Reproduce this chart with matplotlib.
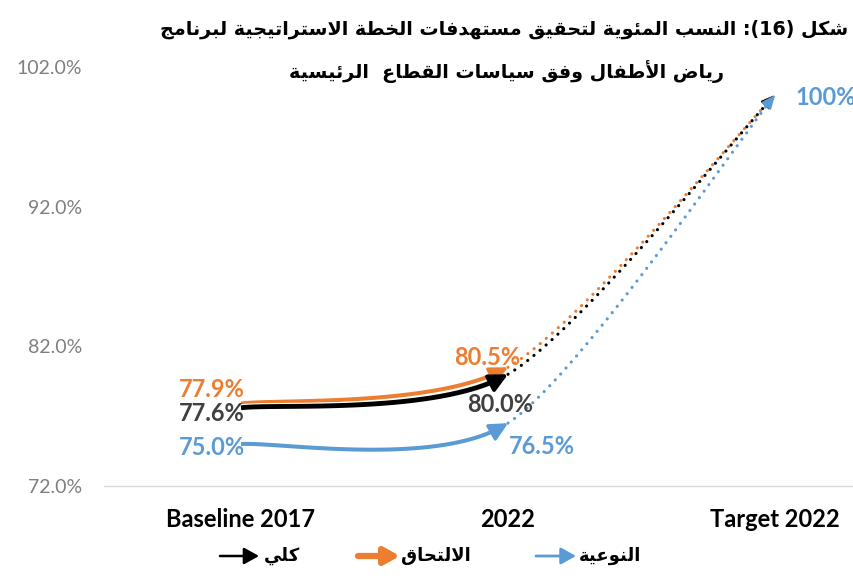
import numpy as np
import matplotlib
matplotlib.use("Agg")
import matplotlib.pyplot as plt
import matplotlib.patheffects as pe

# ----------------------------- data -----------------------------
categories = ["Baseline 2017", "2022", "Target 2022"]
series_names = ["النوعية", "الالتحاق", "كلي"]
quality = [75.0, 76.5, 100.0]
enrolment = [77.9, 80.5, 100.0]
overall = [77.6, 80.0, 100.0]
yticks = [72.0, 82.0, 92.0, 102.0]

title_fig = "شكل"
title_rest = "النسب المئوية لتحقيق مستهدفات الخطة الاستراتيجية لبرنامج"
title_line2 = "رياض الأطفال وفق سياسات القطاع  الرئيسية"

BLUE, ORANGE, BLACK, GREY = "#5B9BD5", "#ED7D31", "#000000", "#404040"


# ----------------------------- arabic shaping -----------------------------
# (isolated, final, initial, medial) presentation forms; right-joining letters
# have no initial/medial form.
FORMS = {
    "ا": (0xFE8D, 0xFE8E, None, None), "أ": (0xFE83, 0xFE84, None, None),
    "ب": (0xFE8F, 0xFE90, 0xFE91, 0xFE92), "ة": (0xFE93, 0xFE94, None, None),
    "ت": (0xFE95, 0xFE96, 0xFE97, 0xFE98), "ج": (0xFE9D, 0xFE9E, 0xFE9F, 0xFEA0),
    "ح": (0xFEA1, 0xFEA2, 0xFEA3, 0xFEA4), "خ": (0xFEA5, 0xFEA6, 0xFEA7, 0xFEA8),
    "د": (0xFEA9, 0xFEAA, None, None), "ر": (0xFEAD, 0xFEAE, None, None),
    "س": (0xFEB1, 0xFEB2, 0xFEB3, 0xFEB4), "ش": (0xFEB5, 0xFEB6, 0xFEB7, 0xFEB8),
    "ض": (0xFEBD, 0xFEBE, 0xFEBF, 0xFEC0), "ط": (0xFEC1, 0xFEC2, 0xFEC3, 0xFEC4),
    "ع": (0xFEC9, 0xFECA, 0xFECB, 0xFECC), "ف": (0xFED1, 0xFED2, 0xFED3, 0xFED4),
    "ق": (0xFED5, 0xFED6, 0xFED7, 0xFED8), "ك": (0xFED9, 0xFEDA, 0xFEDB, 0xFEDC),
    "ل": (0xFEDD, 0xFEDE, 0xFEDF, 0xFEE0), "م": (0xFEE1, 0xFEE2, 0xFEE3, 0xFEE4),
    "ن": (0xFEE5, 0xFEE6, 0xFEE7, 0xFEE8), "ه": (0xFEE9, 0xFEEA, 0xFEEB, 0xFEEC),
    "و": (0xFEED, 0xFEEE, None, None), "ي": (0xFEF1, 0xFEF2, 0xFEF3, 0xFEF4),
    "ئ": (0xFE89, 0xFE8A, 0xFE8B, 0xFE8C),
}
LAM_ALEF = {"ا": (0xFEFB, 0xFEFC, None, None), "أ": (0xFEF7, 0xFEF8, None, None)}


def rtl(text):
    """Shape Arabic letters and return them in visual (left-to-right) order."""
    units, i = [], 0
    while i < len(text):
        c = text[i]
        if c == "ل" and i + 1 < len(text) and text[i + 1] in LAM_ALEF:
            units.append(LAM_ALEF[text[i + 1]]); i += 2
        else:
            units.append(FORMS.get(c, c)); i += 1
    out = []
    for j, u in enumerate(units):
        if isinstance(u, str):
            out.append(u)
            continue
        prev = units[j - 1] if j > 0 else None
        nxt = units[j + 1] if j + 1 < len(units) else None
        jp = isinstance(prev, tuple) and prev[2] is not None
        jn = u[2] is not None and isinstance(nxt, tuple)
        code = u[3] if jp and jn else u[1] if jp else u[2] if jn else u[0]
        out.append(chr(code))
    return "".join(out[::-1])


# ----------------------------- curves -----------------------------
def smooth(xs, ys, k=0.13, n=80):
    """Bezier smoothing through the points (spreadsheet style smoothed line)."""
    p = np.column_stack([xs, ys]).astype(float)
    segs = []
    for i in range(len(p) - 1):
        pp, p0, p1, pn = p[max(i - 1, 0)], p[i], p[i + 1], p[min(i + 2, len(p) - 1)]
        c1 = p0 + k * (p1 - pp)
        c2 = p1 - k * (pn - p0)
        t = np.linspace(0, 1, n)[:, None]
        segs.append((1 - t) ** 3 * p0 + 3 * (1 - t) ** 2 * t * c1
                    + 3 * (1 - t) * t ** 2 * c2 + t ** 3 * p1)
    return segs


fig = plt.figure(figsize=(8.54, 5.79), dpi=100)
W, H = 854, 579
ax = fig.add_axes([104 / W, 93 / H, 1 - 104 / W, (486 - 67) / H])
x = np.arange(len(categories))

# (values, colour, solid width, outline, z for dotted part)
series = [
    (enrolment, ORANGE, 2.9, False, 2.0),
    (overall, BLACK, 3.5, True, 2.1),
    (quality, BLUE, 2.9, False, 2.2),
]
for vals, col, lw, outline, zd in series:
    solid, dotted = smooth(x, vals)
    eff = [pe.Stroke(linewidth=lw + 1.6, foreground="white"), pe.Normal()] if outline else None
    ax.plot(solid[:-3, 0], solid[:-3, 1], color=col, lw=lw, solid_capstyle="butt",
            path_effects=eff, zorder=3)
    ax.annotate("", xy=solid[-1], xytext=solid[-5],
                arrowprops=dict(arrowstyle="-|>,head_length=1.1,head_width=0.55",
                                color=col, lw=lw * 0.8, shrinkA=0, shrinkB=0), zorder=3)
    ax.plot(dotted[:-2, 0], dotted[:-2, 1], color=col, lw=2.3,
            linestyle=(0, (0.01, 2.5)), dash_capstyle="round", zorder=zd)
    ax.annotate("", xy=dotted[-1], xytext=dotted[-3],
                arrowprops=dict(arrowstyle="-|>,head_length=0.8,head_width=0.35",
                                color=col, lw=1.5, shrinkA=0, shrinkB=0), zorder=zd)

# data labels (offsets in pixels from each point)
lab_kw = dict(textcoords="offset pixels", fontsize=17, fontweight="bold",
              family="Lato", va="center")
label_offsets = {
    "quality": [(4, -3, "right"), (1, -23, "left"), (20, -3, "left")],
    "enrolment": [(4, 14, "right"), (-21, 10, "center"), None],
    "overall": [(4, -6, "right"), (-8, -30, "center"), None],
}
for key, vals, col in [("quality", quality, BLUE), ("enrolment", enrolment, ORANGE),
                       ("overall", overall, GREY)]:
    for i, off in enumerate(label_offsets[key]):
        if off is None:
            continue
        txt = f"{vals[i]:.0f}%" if vals[i] == 100 else f"{vals[i]:.1f}%"
        ax.annotate(txt, (x[i], vals[i]), xytext=off[:2], ha=off[2], color=col, **lab_kw)

ax.set_xlim((104 - 241) / 267, (854 - 241) / 267)
ax.set_ylim(yticks[0], yticks[-1])
ax.set_yticks(yticks)
ax.set_yticklabels([f"{v:.1f}%" for v in yticks], fontsize=14, color="#7F7F7F", family="Lato")
ax.set_xticks(x)
ax.set_xticklabels(categories, fontsize=17, fontweight="bold", family="Lato")
ax.tick_params(axis="both", length=0)
ax.tick_params(axis="y", pad=16)
ax.tick_params(axis="x", pad=16)
for s in ["top", "right", "left"]:
    ax.spines[s].set_visible(False)
ax.spines["bottom"].set_color("#D9D9D9")
ax.spines["bottom"].set_linewidth(1.0)
ax.patch.set_visible(False)

# title
fig.text(504 / W, 1 - 29 / H, rtl(title_rest) + " :(16) " + rtl(title_fig),
         ha="center", va="center", fontsize=13.8, fontweight="bold", family="DejaVu Sans")
fig.text(507 / W, 1 - 72 / H, rtl(title_line2), ha="center", va="center",
         fontsize=13.8, fontweight="bold", family="DejaVu Sans")

# legend
leg_y = 1 - 556 / H
legend_items = [
    (series_names[2], BLACK, 1.8, 220, 259, 300),
    (series_names[1], ORANGE, 4.5, 358, 400, 471),
    (series_names[0], BLUE, 2.0, 536, 576, 641),
]
for name, col, lw, x0, x1, xt in legend_items:
    fig.add_artist(matplotlib.patches.FancyArrowPatch(
        (x0 / W, leg_y), (x1 / W, leg_y), transform=fig.transFigure,
        arrowstyle="-|>,head_length=0.9,head_width=0.5", mutation_scale=10,
        color=col, lw=lw, shrinkA=0, shrinkB=0))
    fig.text(xt / W, leg_y, rtl(name), ha="right", va="center", fontsize=13,
             fontweight="bold", family="DejaVu Sans")

fig.savefig("out.png", dpi=100)
